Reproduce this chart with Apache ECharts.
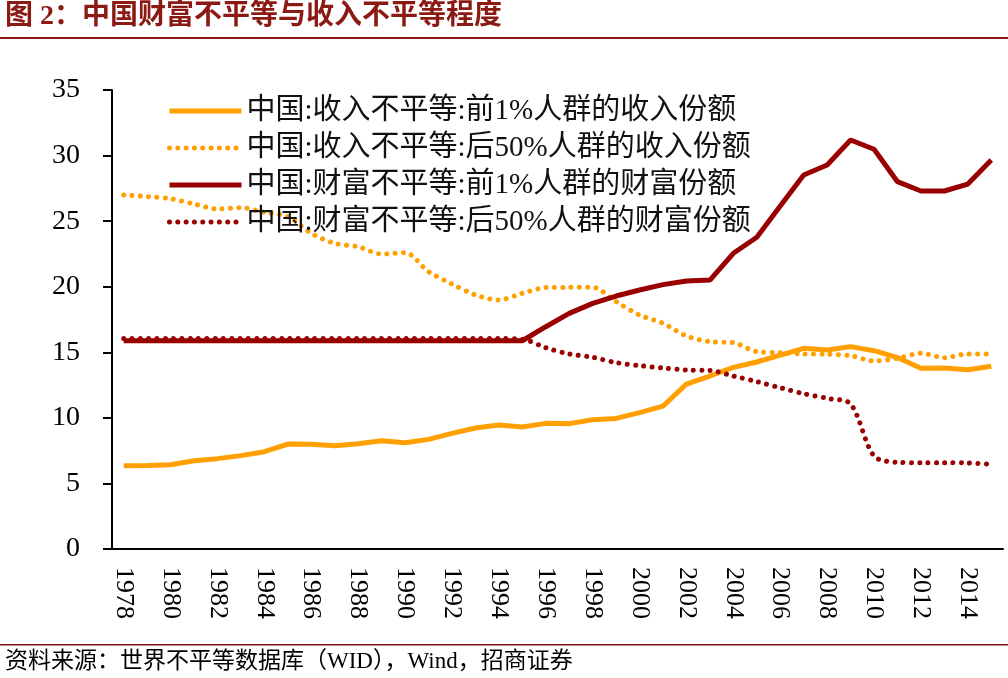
<!DOCTYPE html>
<html>
<head>
<meta charset="utf-8">
<script src="https://cdn.jsdelivr.net/npm/echarts@6/dist/echarts.min.js"></script>
<style>
html,body{margin:0;padding:0;background:#fff;}
#chart{width:1008px;height:678px;}
</style>
</head>
<body>
<div id="chart"></div>
<script>
const years = ['1978','1979','1980','1981','1982','1983','1984','1985','1986','1987','1988','1989','1990','1991','1992','1993','1994','1995','1996','1997','1998','1999','2000','2001','2002','2003','2004','2005','2006','2007','2008','2009','2010','2011','2012','2013','2014','2015'];

const incomeTop1 = [6.35,6.37,6.43,6.73,6.89,7.12,7.42,8.0,7.98,7.88,8.03,8.26,8.1,8.36,8.82,9.23,9.46,9.3,9.58,9.56,9.86,9.96,10.4,10.9,12.58,13.19,13.85,14.26,14.79,15.3,15.17,15.43,15.12,14.6,13.78,13.8,13.67,13.93];

const incomeBottom50 = [27.0,26.87,26.71,26.31,25.93,26.03,25.67,25.34,24.07,23.31,23.05,22.49,22.6,21.15,20.21,19.37,18.99,19.5,19.93,19.95,19.95,18.86,17.84,17.21,16.24,15.81,15.73,15.05,14.97,14.87,14.85,14.74,14.34,14.54,14.92,14.59,14.87,14.87];

const wealthTop1 = [15.88,15.88,15.88,15.88,15.88,15.88,15.88,15.88,15.88,15.88,15.88,15.88,15.88,15.88,15.88,15.88,15.88,15.88,16.95,17.97,18.73,19.29,19.75,20.16,20.44,20.51,22.55,23.77,26.16,28.52,29.28,31.19,30.48,28.01,27.3,27.3,27.83,29.66];

const wealthBottom50 = [16.05,16.05,16.05,16.05,16.05,16.05,16.05,16.05,16.05,16.05,16.05,16.05,16.05,16.05,16.05,16.05,16.05,16.0,15.35,14.87,14.62,14.21,13.98,13.8,13.65,13.62,13.19,12.76,12.3,11.84,11.49,11.06,7.09,6.61,6.58,6.58,6.56,6.46];

const seriesNames = [
  '中国:收入不平等:前1%人群的收入份额',
  '中国:收入不平等:后50%人群的收入份额',
  '中国:财富不平等:前1%人群的财富份额',
  '中国:财富不平等:后50%人群的财富份额'
];

const titleText = '图 2：中国财富不平等与收入不平等程度';
const sourceText = '资料来源：世界不平等数据库（WID），Wind，招商证券';

const ORANGE = '#FFA000';
const DARKRED = '#990000';
const FONT = '"Liberation Serif", "Noto Sans CJK SC", serif';
const dotType = [0.01, 8.3];

const chart = echarts.init(document.getElementById('chart'), null, {renderer: 'canvas'});

chart.setOption({
  animation: false,
  backgroundColor: '#fff',
  grid: {left: 112, right: 5, top: 90, bottom: 129, containLabel: false},
  graphic: [
    {type: 'text', left: 5, top: 3, style: {text: titleText, font: 'bold 28px ' + FONT, fill: '#8B1A14'}},
    {type: 'rect', shape: {x: 0, y: 37, width: 1008, height: 2}, style: {fill: '#8B1A14'}},
    {type: 'rect', shape: {x: 0, y: 644, width: 1008, height: 1.5}, style: {fill: '#7A1010'}},
    {type: 'text', left: 5, top: 650, style: {text: sourceText, font: '23px ' + FONT, fill: '#000'}}
  ],
  legend: {
    orient: 'vertical',
    left: 162,
    top: 91,
    itemWidth: 72,
    itemHeight: 14,
    itemGap: 7,
    data: seriesNames,
    itemStyle: {opacity: 0, borderWidth: 0},
    lineStyle: {width: 5},
    textStyle: {fontFamily: FONT, fontSize: 29, color: '#111', lineHeight: 30, padding: [0, 0, 0, 0]}
  },
  xAxis: {
    type: 'category',
    data: years,
    boundaryGap: true,
    axisLine: {lineStyle: {color: '#000', width: 2}},
    axisTick: {show: false},
    axisLabel: {interval: 1, rotate: -90, margin: 18, fontFamily: FONT, fontSize: 26, color: '#000'},
    splitLine: {show: false}
  },
  yAxis: {
    type: 'value',
    min: 0, max: 35, interval: 5,
    axisLine: {show: true, lineStyle: {color: '#000', width: 2}},
    axisTick: {show: true, inside: false, length: 9, lineStyle: {color: '#000', width: 2}},
    axisLabel: {margin: 32, fontFamily: FONT, fontSize: 28, color: '#000'},
    splitLine: {show: false}
  },
  series: [
    {name: seriesNames[0], type: 'line', data: incomeTop1, symbol: 'none',
     lineStyle: {color: ORANGE, width: 5}, itemStyle: {color: ORANGE}},
    {name: seriesNames[1], type: 'line', data: incomeBottom50, symbol: 'none', smooth: 0.3,
     lineStyle: {color: ORANGE, width: 5, type: dotType, cap: 'round'}, itemStyle: {color: ORANGE}},
    {name: seriesNames[2], type: 'line', data: wealthTop1, symbol: 'none',
     lineStyle: {color: DARKRED, width: 5}, itemStyle: {color: DARKRED}},
    {name: seriesNames[3], type: 'line', data: wealthBottom50, symbol: 'none', smooth: 0.3,
     lineStyle: {color: DARKRED, width: 5, type: dotType, cap: 'round'}, itemStyle: {color: DARKRED}}
  ]
});
</script>
</body>
</html>
